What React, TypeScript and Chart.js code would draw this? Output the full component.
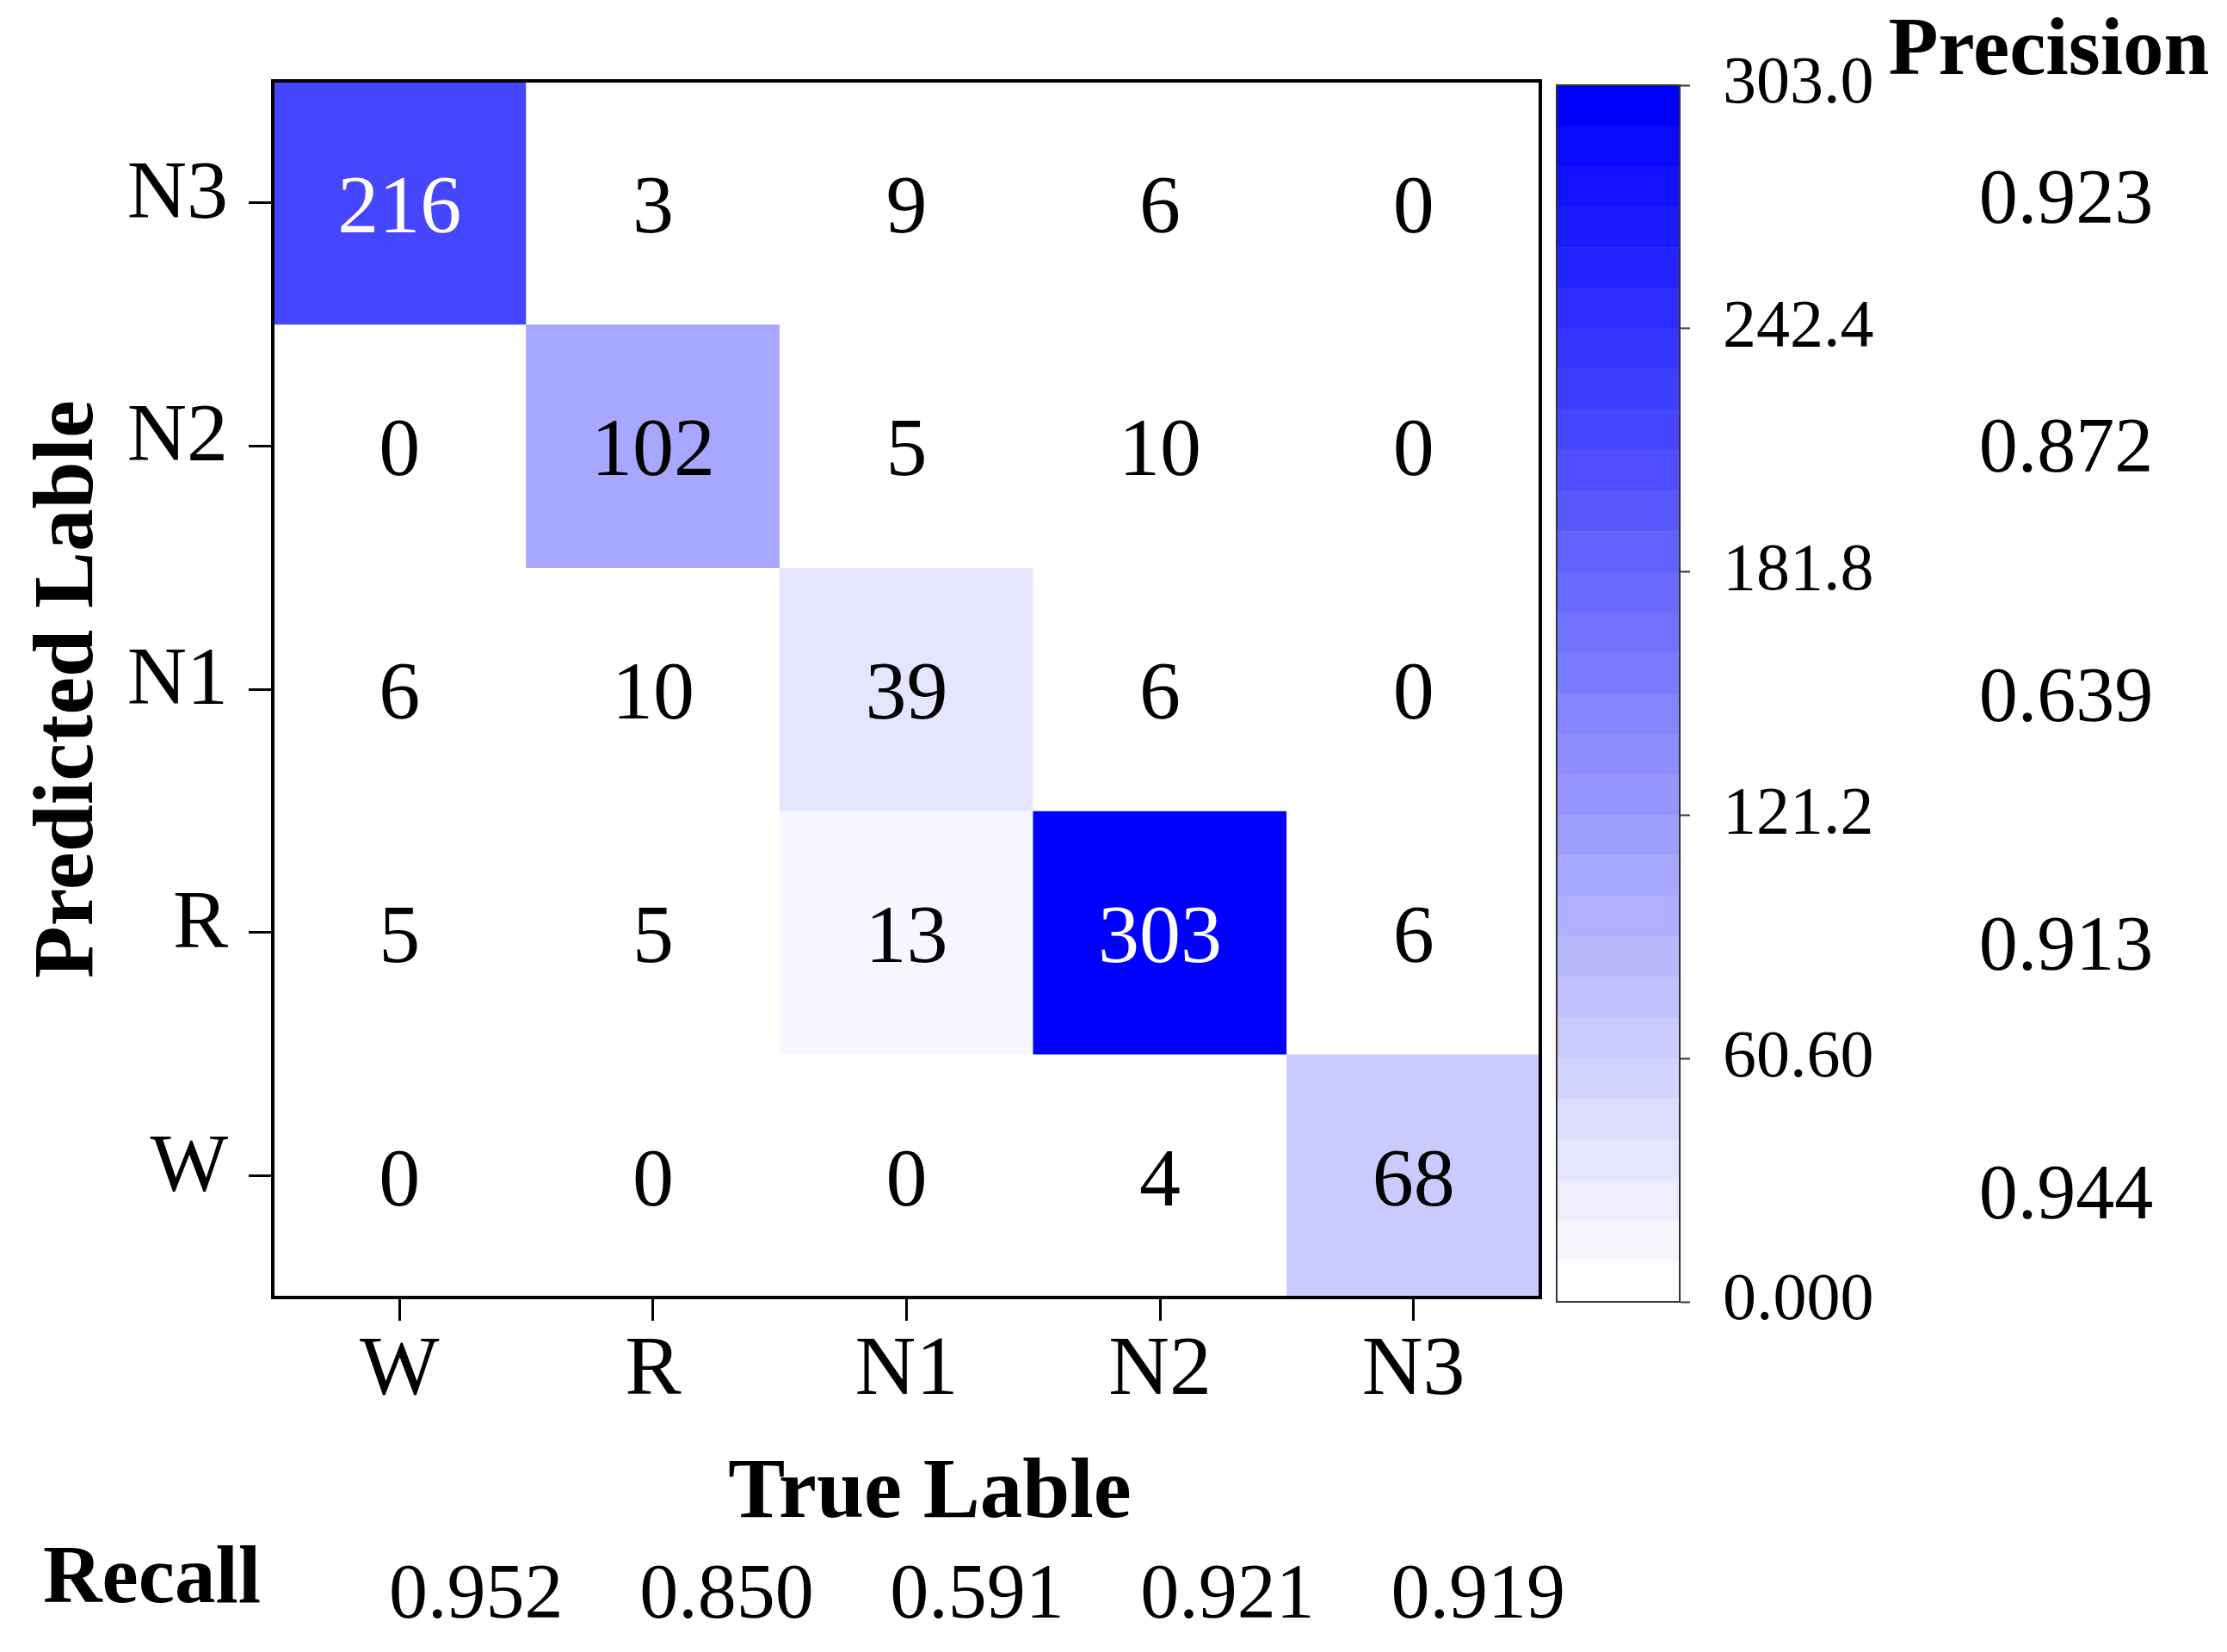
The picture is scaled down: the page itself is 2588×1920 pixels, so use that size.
import React, { useEffect, useRef } from "react";
import { Chart, registerables } from "chart.js";

Chart.register(...registerables);

// ---------- data ----------
const trueLabels = ["W", "R", "N1", "N2", "N3"]; // columns (x)
const predLabels = ["N3", "N2", "N1", "R", "W"]; // rows, top to bottom (y)
const rowN3 = [216, 3, 9, 6, 0];
const rowN2 = [0, 102, 5, 10, 0];
const rowN1 = [6, 10, 39, 6, 0];
const rowR = [5, 5, 13, 303, 6];
const rowW = [0, 0, 0, 4, 68];
const matrix = [rowN3, rowN2, rowN1, rowR, rowW];
const precision = ["0.923", "0.872", "0.639", "0.913", "0.944"];
const recall = ["0.952", "0.850", "0.591", "0.921", "0.919"];
const cbTickValues = [0, 60.6, 121.2, 181.8, 242.4, 303.0];
const cbTickLabels = ["0.000", "60.60", "121.2", "181.8", "242.4", "303.0"];
const VMIN = 0;
const VMAX = 303;
const N_BANDS = 30;

// ---------- style ----------
const FONT = "'Liberation Serif', 'DejaVu Serif', serif";
const W = 2588;
const H = 1920;

function cmap(t: number): string {
  const tt = Math.max(0, Math.min(1, t));
  const c = Math.round(255 * (1 - tt));
  return `rgb(${c},${c},255)`;
}

// discrete colour map: N_BANDS levels between VMIN and VMAX
function bandColor(v: number): string {
  const k = Math.min(N_BANDS - 1, Math.floor(((v - VMIN) / (VMAX - VMIN)) * N_BANDS));
  return cmap(k / (N_BANDS - 1));
}

const nRows = predLabels.length;
const rowCenter = (i: number) => nRows - 1 - i + 0.5;

const mainAnnotations = {
  id: "mainAnnotations",
  afterDatasetsDraw(chart: any) {
    const { ctx, chartArea: a, scales } = chart;
    const x = scales.x;
    const y = scales.y;
    ctx.save();
    // cell values
    ctx.textAlign = "center";
    ctx.textBaseline = "middle";
    ctx.font = `96px ${FONT}`;
    matrix.forEach((row, i) =>
      row.forEach((v, j) => {
        ctx.fillStyle = (v - VMIN) / (VMAX - VMIN) > 0.5 ? "#ffffff" : "#000000";
        ctx.fillText(String(v), x.getPixelForValue(j), y.getPixelForValue(rowCenter(i)) + 9);
      })
    );
    // frame
    ctx.strokeStyle = "#000";
    ctx.lineWidth = 4;
    ctx.strokeRect(a.left, a.top, a.right - a.left, a.bottom - a.top);

    // x title
    ctx.fillStyle = "#000";
    ctx.font = `bold 99px ${FONT}`;
    ctx.textAlign = "center";
    ctx.textBaseline = "alphabetic";
    ctx.fillText("True Lable", (a.left + a.right) / 2 + 27, 1763);

    // y title
    ctx.save();
    ctx.translate(107, (a.top + a.bottom) / 2);
    ctx.rotate(-Math.PI / 2);
    ctx.fillText("Predicted Lable", 0, 0);
    ctx.restore();

    // Recall
    ctx.font = `bold 95px ${FONT}`;
    ctx.textAlign = "left";
    ctx.fillText("Recall", 50, 1862);
    ctx.font = `90px ${FONT}`;
    ctx.textAlign = "center";
    recall.forEach((r, j) => {
      ctx.fillText(r, x.getPixelForValue(j) + 89 - 3.5 * j, 1880);
    });

    // Precision
    ctx.font = `bold 95px ${FONT}`;
    ctx.fillText("Precision", 2381, 86);
    ctx.font = `90px ${FONT}`;
    ctx.textBaseline = "middle";
    precision.forEach((p, i) => {
      ctx.fillText(p, 2401, y.getPixelForValue(rowCenter(i)) + 6.5 * i);
    });
    ctx.restore();
  },
};

const cbFrame = {
  id: "cbFrame",
  afterDatasetsDraw(chart: any) {
    const { ctx, chartArea: a } = chart;
    ctx.save();
    ctx.strokeStyle = "#333";
    ctx.lineWidth = 2;
    ctx.strokeRect(a.left, a.top, a.right - a.left, a.bottom - a.top);
    ctx.restore();
  },
};

export default function App() {
  const mainRef = useRef<HTMLCanvasElement>(null);
  const cbRef = useRef<HTMLCanvasElement>(null);

  useEffect(() => {
    if (!mainRef.current || !cbRef.current) return;

    const datasets = matrix.map((row, i) => ({
      label: predLabels[i],
      data: row.map(() => [rowCenter(i) - 0.5, rowCenter(i) + 0.5]),
      backgroundColor: row.map((v) => bandColor(v)),
      borderWidth: 0,
      borderSkipped: false,
      grouped: false,
      barPercentage: 1,
      categoryPercentage: 1,
    }));

    const axisGrid = {
      display: true,
      drawOnChartArea: false,
      drawTicks: true,
      tickLength: 28,
      tickWidth: 3,
      tickColor: "#000",
      offset: false,
    };

    const main = new Chart(mainRef.current, {
      type: "bar",
      data: { labels: trueLabels, datasets: datasets as any },
      options: {
        animation: false,
        responsive: false,
        maintainAspectRatio: false,
        devicePixelRatio: 1,
        layout: { padding: { left: 0, top: 94, right: W - 1790, bottom: 0 } },
        plugins: { legend: { display: false }, tooltip: { enabled: false } },
        scales: {
          x: {
            type: "category",
            offset: true,
            grid: { ...axisGrid, tickLength: 27 } as any,
            border: { display: true, color: "#000", width: 4 },
            ticks: {
              color: "#000",
              font: { family: FONT, size: 98 },
              padding: 0,
              maxRotation: 0,
              autoSkip: false,
            },
            afterFit: (s: any) => {
              s.height = H - 1508;
            },
          },
          y: {
            type: "linear",
            min: 0,
            max: nRows,
            afterBuildTicks: (s: any) => {
              s.ticks = predLabels.map((_, i) => ({ value: rowCenter(i) })).reverse();
            },
            grid: axisGrid as any,
            border: { display: true, color: "#000", width: 4 },
            ticks: {
              color: "#000",
              font: { family: FONT, size: 96 },
              padding: 24,
              labelOffset: -8,
              autoSkip: false,
              callback: (v: any) => predLabels[nRows - 1 - Math.floor(Number(v))],
            },
            afterFit: (s: any) => {
              s.width = 317;
            },
          },
        },
      },
      plugins: [mainAnnotations],
    });

    const bands = Array.from({ length: N_BANDS }, (_, k) => k);
    const cb = new Chart(cbRef.current, {
      type: "bar",
      data: {
        labels: [""],
        datasets: bands.map((k) => ({
          label: `band${k}`,
          data: [[VMIN + (k * (VMAX - VMIN)) / N_BANDS, VMIN + ((k + 1) * (VMAX - VMIN)) / N_BANDS]],
          backgroundColor: cmap(k / (N_BANDS - 1)),
          borderWidth: 0,
          borderSkipped: false,
          grouped: false,
          barPercentage: 1,
          categoryPercentage: 1,
        })) as any,
      },
      options: {
        animation: false,
        responsive: false,
        maintainAspectRatio: false,
        devicePixelRatio: 1,
        layout: { padding: { left: 1809, top: 99, right: W - 1952 - 300, bottom: H - 1513 } },
        plugins: { legend: { display: false }, tooltip: { enabled: false } },
        scales: {
          x: { type: "category", display: false, offset: true },
          y: {
            type: "linear",
            position: "right",
            min: VMIN,
            max: VMAX,
            afterBuildTicks: (s: any) => {
              s.ticks = cbTickValues.map((v) => ({ value: v }));
            },
            grid: {
              display: true,
              drawOnChartArea: false,
              drawTicks: true,
              tickLength: 12,
              tickWidth: 2,
              tickColor: "#333",
            },
            border: { display: true, color: "#333", width: 2 },
            ticks: {
              color: "#000",
              font: { family: FONT, size: 78 },
              padding: 38,
              autoSkip: false,
              callback: (_v: any, i: number) => cbTickLabels[i],
            },
            afterFit: (s: any) => {
              s.width = 300;
            },
          },
        },
      },
      plugins: [cbFrame],
    });

    return () => {
      main.destroy();
      cb.destroy();
    };
  }, []);

  return (
    <div style={{ position: "absolute", left: 0, top: 0, width: W, height: H, background: "#fff" }}>
      <canvas
        ref={mainRef}
        width={W}
        height={H}
        style={{ position: "absolute", left: 0, top: 0, width: W, height: H }}
      />
      <canvas
        ref={cbRef}
        width={W}
        height={H}
        style={{ position: "absolute", left: 0, top: 0, width: W, height: H }}
      />
    </div>
  );
}
